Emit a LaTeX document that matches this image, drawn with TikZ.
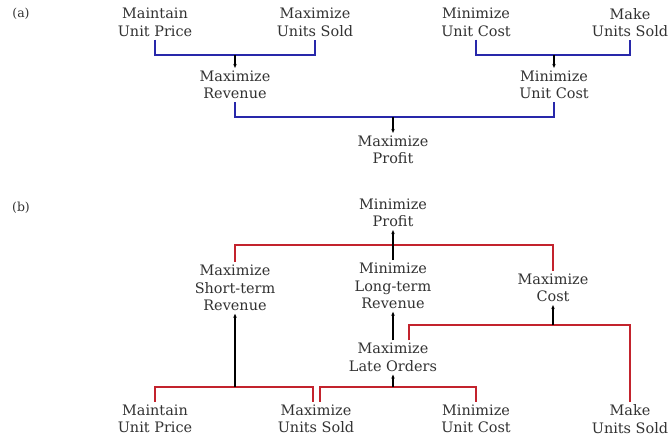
\documentclass[tikz,border=0pt]{standalone}
\usepackage{fontspec}
\setmainfont{DejaVu Serif}
\usetikzlibrary{arrows.meta}
\definecolor{brblue}{RGB}{40,40,170}
\definecolor{brred}{RGB}{195,35,45}
\definecolor{txt}{RGB}{50,50,50}
\begin{document}
\begin{tikzpicture}[x=1bp,y=-1bp,
  lbl/.style={align=center,inner sep=0pt,outer sep=3bp,text=txt,font=\fontsize{14.5}{17.5}\selectfont},
  tag/.style={inner sep=0pt,text=txt,font=\fontsize{12.5}{14}\selectfont},
  bra/.style={line width=2bp,line join=miter},
  bblue/.style={bra,draw=brblue},
  bred/.style={bra,draw=brred},
  stemline/.style={line width=1.5bp,draw=black,-{Stealth[length=4bp,width=3.5bp]}}]
\useasboundingbox (0,0) rectangle (669,443);
% ---------------- (a)
\node[tag] (ta) at (21,14) {(a)};
\node[lbl] (a1) at (155,22.5) {Maintain\\Unit Price};
\node[lbl] (a2) at (315,22.5) {Maximize\\Units Sold};
\node[lbl] (a3) at (476,22.5) {Minimize\\Unit Cost};
\node[lbl] (a4) at (630,22.5) {Make\\Units Sold};
\node[lbl] (a5) at (235,85) {Maximize\\Revenue};
\node[lbl] (a6) at (554,85) {Minimize\\Unit Cost};
\node[lbl] (a7) at (393,150) {Maximize\\Profit};
\coordinate (ja1) at (235,55);
\coordinate (ja2) at (554,55);
\coordinate (ja3) at (393,117);
\draw[bblue] (a1.south) |- (ja1) -| (a2.south);
\draw[bblue] (a3.south) |- (ja2) -| (a4.south);
\draw[bblue] (a5.south) |- (ja3) -| (a6.south);
\draw[stemline] (ja1) -- (a5.north);
\draw[stemline] (ja2) -- (a6.north);
\draw[stemline] (ja3) -- (a7.north);
% ---------------- (b)
\node[tag] (tb) at (21,208) {(b)};
\node[lbl] (b1) at (393,213) {Minimize\\Profit};
\node[lbl] (b2) at (235,288) {Maximize\\Short-term\\Revenue};
\node[lbl] (b3) at (393,286) {Minimize\\Long-term\\Revenue};
\node[lbl] (b4) at (553,288) {Maximize\\Cost};
\node[lbl] (b5) at (393,357.5) {Maximize\\Late Orders};
\node[lbl] (b6) at (155,419) {Maintain\\Unit Price};
\node[lbl] (b7) at (316,419) {Maximize\\Units Sold};
\node[lbl] (b8) at (476,419) {Minimize\\Unit Cost};
\node[lbl] (b9) at (630,419) {Make\\Units Sold};
\coordinate (jb1) at (393,245);
\coordinate (jb2) at (553,325);
\coordinate (jb3) at (393,387);
\coordinate (jb4) at (235,387);
\draw[bred] (b2.north) |- (jb1) -| (b4.north);
\draw[bred] ([xshift=16bp]b5.north) |- (jb2) -| (b9.north);
\draw[bred] ([xshift=4bp]b7.north) |- (jb3) -| (b8.north);
\draw[bred] (b6.north) |- (jb4) -| ([xshift=-3bp]b7.north);
\draw[stemline] (b3.north) -- (b1.south);
\draw[stemline] (b5.north) -- (b3.south);
\draw[stemline] (jb2) -- (b4.south);
\draw[stemline] (jb3) -- (b5.south);
\draw[stemline] (jb4) -- (b2.south);
\end{tikzpicture}
\end{document}
